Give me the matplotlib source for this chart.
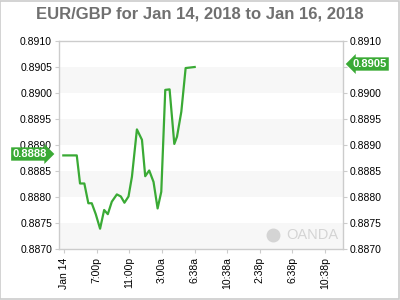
import matplotlib
matplotlib.use("Agg")
import matplotlib.pyplot as plt
from matplotlib.patches import Rectangle

plt.rcParams['font.family'] = ['Liberation Sans', 'DejaVu Sans']

# hours since the "Jan 14" tick
hours = [-0.12, 1.53, 1.93, 2.46, 2.95, 3.37, 3.86, 4.39, 4.89, 5.34,
         5.83, 6.45, 6.94, 7.38, 7.88, 8.30, 8.91, 9.53, 9.93, 10.42,
         10.95, 11.45, 11.90, 12.39, 12.92, 13.50, 13.83, 14.36, 14.89, 16.0]
rate = [0.8888, 0.8888, 0.88826, 0.88826, 0.88788, 0.88788, 0.88767, 0.88739, 0.88775, 0.88767,
        0.88791, 0.88805, 0.88801, 0.88789, 0.88801, 0.88839, 0.8893, 0.8891, 0.8884, 0.88851,
        0.88829, 0.88778, 0.8881, 0.89006, 0.89007, 0.88902, 0.88916, 0.88964, 0.89048, 0.8905]

tick_pos = [0, 4, 8, 12, 16, 20, 24, 28, 32]
tick_labels = ['Jan 14', '7:00p', '11:00p', '3:00a', '6:38a', '10:38a', '2:38p', '6:38p', '10:38p']
y_ticks = [0.8870, 0.8875, 0.8880, 0.8885, 0.8890, 0.8895, 0.8900, 0.8905, 0.8910]

open_label = '0.8888'
last_label = '0.8905'

green = '#3aaa35'
grid_gray = '#cccccc'

fig = plt.figure(figsize=(4, 3), dpi=100)
ax = fig.add_axes([0.1475, 0.17, 0.71, 0.6933])

# alternating bands
for lo in [0.8870, 0.8880, 0.8890, 0.8900]:
    ax.axhspan(lo, lo + 0.0005, color='#f7f7f7', zorder=0, lw=0)

ax.plot(hours, rate, color=green, lw=1.6, zorder=3)

ax.set_xlim(-0.65, 34.2)
ax.set_ylim(0.8870, 0.8910)
ax.set_xticks(tick_pos)
ax.set_xticklabels(tick_labels, rotation=90, fontsize=7.5)
ax.set_yticks(y_ticks)
ax.set_yticklabels(['%.4f' % v for v in y_ticks], fontsize=7.5)
ax.tick_params(axis='y', length=3, color=grid_gray, pad=2)
ax.tick_params(axis='x', length=3, color=grid_gray, pad=3)
for s in ax.spines.values():
    s.set_color(grid_gray)
    s.set_linewidth(1)

# right-hand labels; the last price tag sits where 0.8905 would be
axr = ax.twinx()
axr.set_ylim(ax.get_ylim())
axr.set_yticks(y_ticks)
axr.set_yticklabels(['' if '%.4f' % v == last_label else '%.4f' % v for v in y_ticks],
                    fontsize=7.5)
axr.tick_params(axis='y', length=3, color=grid_gray, pad=2)
for s in axr.spines.values():
    s.set_visible(False)

# price tags
fig.text(0.075, 1 - 154 / 300, open_label, ha='center', va='center', color='white',
         fontsize=8, fontweight='bold', zorder=5,
         bbox=dict(boxstyle='rarrow,pad=0.15', fc=green, ec=green, lw=0))
fig.text(0.925, 1 - 64 / 300, last_label, ha='center', va='center', color='white',
         fontsize=8, fontweight='bold', zorder=5,
         bbox=dict(boxstyle='larrow,pad=0.15', fc=green, ec=green, lw=0))

# watermark
ax.text(0.985, 0.065, 'OANDA', transform=ax.transAxes, ha='right', va='center',
        color='#d4d4d4', fontsize=10.5, zorder=2)
ax.plot([0.755], [0.065], transform=ax.transAxes, marker='o', ms=9, color='#d4d4d4',
        zorder=2, clip_on=False)

fig.suptitle('EUR/GBP for Jan 14, 2018 to Jan 16, 2018', y=0.978, fontsize=12,
             fontweight='bold', color='#707070')

fig.add_artist(Rectangle((0.001, 0.002), 0.997, 0.995, transform=fig.transFigure,
                         fill=False, ec=grid_gray, lw=1.2))

fig.savefig('out.png', dpi=100)
